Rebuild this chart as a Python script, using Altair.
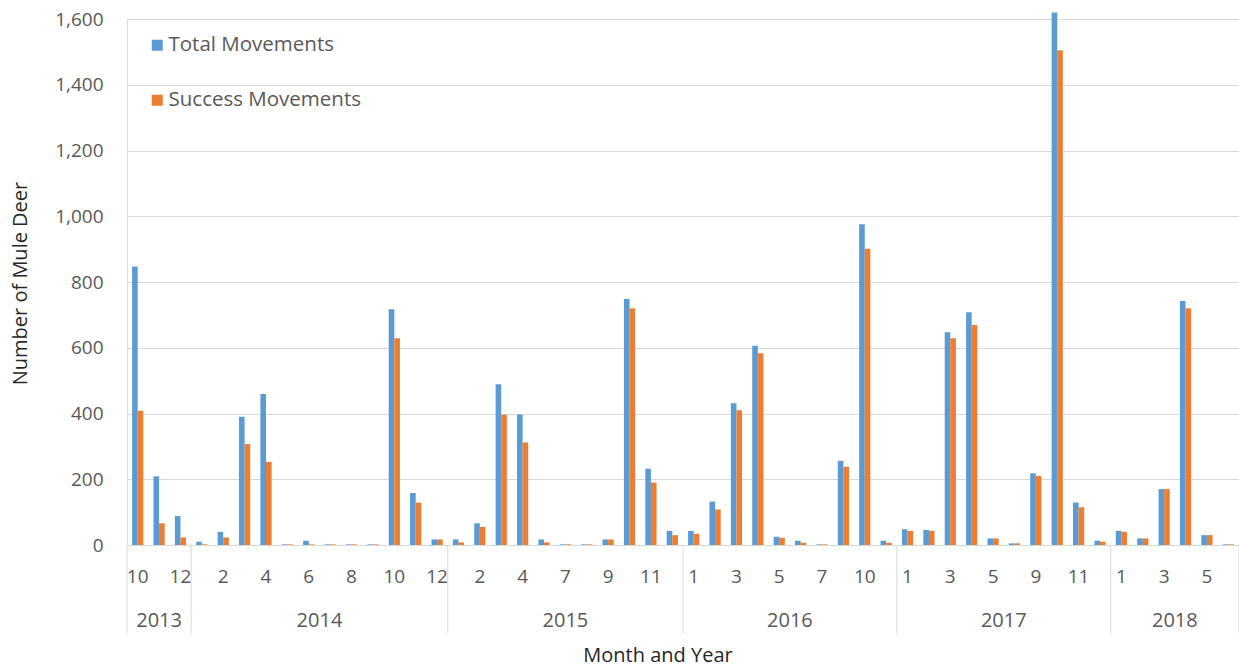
import altair as alt
import pandas as pd

# Month-by-month counts of mule deer crossing movements, Oct 2013 - Jun 2018
years = (
    [2013] * 3
    + [2014] * 12
    + [2015] * 11
    + [2016] * 10
    + [2017] * 10
    + [2018] * 6
)
months = (
    [10, 11, 12]
    + [1, 2, 3, 4, 5, 6, 7, 8, 9, 10, 11, 12]
    + [1, 2, 3, 4, 5, 7, 8, 9, 10, 11, 12]
    + [1, 2, 3, 4, 5, 6, 7, 9, 10, 11]
    + [1, 2, 3, 4, 5, 7, 9, 10, 11, 12]
    + [1, 2, 3, 4, 5, 6]
)
total_movements = (
    [847, 209, 88]
    + [10, 40, 390, 459, 2, 13, 2, 2, 2, 717, 158, 17]
    + [17, 66, 489, 397, 17, 2, 2, 17, 748, 232, 43]
    + [43, 132, 431, 606, 25, 13, 2, 256, 976, 13]
    + [48, 46, 647, 708, 20, 5, 218, 1620, 129, 13]
    + [43, 20, 170, 742, 30, 2]
)
success_movements = (
    [408, 66, 23]
    + [2, 23, 307, 253, 2, 2, 2, 2, 2, 629, 129, 17]
    + [8, 55, 396, 312, 8, 2, 2, 17, 720, 190, 30]
    + [34, 108, 410, 583, 22, 7, 2, 238, 901, 7]
    + [43, 43, 629, 669, 20, 5, 210, 1505, 115, 10]
    + [40, 20, 170, 720, 30, 2]
)
series_names = ["Total Movements", "Success Movements"]
series_colors = ["#5B9BD5", "#ED7D31"]
y_ticks = [0, 200, 400, 600, 800, 1000, 1200, 1400, 1600]

n = len(months)
W, H = 1112, 526
FONT = "Open Sans"
GREY = "#595959"
DARK = "#262626"
LINE = "#D9D9D9"
BAR_FRAC = 0.262

# Long table: one row per month and series
rows = []
for i, (yr, mo, tot, suc) in enumerate(zip(years, months, total_movements, success_movements)):
    rows.append({"idx": i, "year": yr, "month": mo, "series": series_names[0], "value": tot})
    rows.append({"idx": i, "year": yr, "month": mo, "series": series_names[1], "value": suc})
bars_df = pd.DataFrame(rows)

cats_df = pd.DataFrame({"idx": list(range(n)), "year": years, "month": months})
cats_df["label"] = [str(m) if i % 2 == 0 else "" for i, m in enumerate(months)]

# Year boundaries for the grouped category axis
bounds = [i - 0.5 for i in range(n) if i == 0 or years[i] != years[i - 1]] + [n - 0.5]
bounds_df = pd.DataFrame({"b": bounds})

x_scale = alt.Scale(domain=[-0.5, n - 0.5], nice=False, zero=False)

bars = (
    alt.Chart(bars_df)
    .transform_calculate(
        x0=f"datum.series == '{series_names[0]}' ? datum.idx - {BAR_FRAC} : datum.idx",
        x1=f"datum.series == '{series_names[0]}' ? datum.idx : datum.idx + {BAR_FRAC}",
        base="0",
    )
    .mark_bar()
    .encode(
        x=alt.X("x0:Q", scale=x_scale, axis=None),
        x2="x1:Q",
        y=alt.Y(
            "value:Q",
            scale=alt.Scale(domain=[0, 1600], nice=False),
            axis=alt.Axis(
                values=y_ticks,
                format=",.0f",
                title="Number of Mule Deer",
                grid=True,
                gridColor=LINE,
                gridWidth=1,
                domain=False,
                ticks=False,
                labelFont=FONT,
                labelFontSize=19,
                labelColor=GREY,
                labelPadding=24,
                titleFont=FONT,
                titleFontSize=20,
                titleFontWeight="normal",
                titleColor=DARK,
                titleX=-107,
                titleY=264,
                titleAngle=-90,
                titleBaseline="middle",
            ),
        ),
        y2="base:Q",
        color=alt.Color(
            "series:N",
            scale=alt.Scale(domain=series_names, range=series_colors),
            legend=alt.Legend(
                title=None,
                orient="none",
                legendX=20,
                legendY=16,
                direction="vertical",
                symbolType="square",
                symbolSize=121,
                symbolStrokeWidth=0,
                labelFont=FONT,
                labelFontSize=20.5,
                labelColor=GREY,
                labelOffset=1,
                labelLimit=0,
                rowPadding=34,
                padding=0,
            ),
        ),
    )
)

separators = (
    alt.Chart(bounds_df)
    .mark_rule(color=LINE, strokeWidth=1)
    .encode(x=alt.X("b:Q", scale=x_scale, axis=None), y=alt.value(H), y2=alt.value(H + 88))
)

month_labels = (
    alt.Chart(cats_df)
    .mark_text(font=FONT, fontSize=19, color=GREY, baseline="middle", align="center")
    .encode(x=alt.X("idx:Q", scale=x_scale, axis=None), y=alt.value(H + 32), text="label:N")
)

year_labels = (
    alt.Chart(cats_df)
    .transform_aggregate(mid="mean(idx)", groupby=["year"])
    .mark_text(font=FONT, fontSize=20, color=GREY, baseline="middle", align="center")
    .encode(x=alt.X("mid:Q", scale=x_scale, axis=None), y=alt.value(H + 76), text="year:N")
)

x_title = (
    alt.Chart(pd.DataFrame({"t": ["Month and Year"]}))
    .mark_text(font=FONT, fontSize=20, color=DARK, baseline="middle", align="center")
    .encode(x=alt.value(531), y=alt.value(H + 111), text="t:N")
)

chart = (
    alt.layer(separators, bars, month_labels, year_labels, x_title)
    .properties(
        width=W,
        height=H,
        autosize=alt.AutoSizeParams(type="none"),
        padding={"left": 127, "top": 19, "right": 0, "bottom": 123},
    )
    .configure_view(stroke=None)
    .configure(background="white")
)

chart.save("out.html", embed_options={"renderer": "svg", "actions": False})
